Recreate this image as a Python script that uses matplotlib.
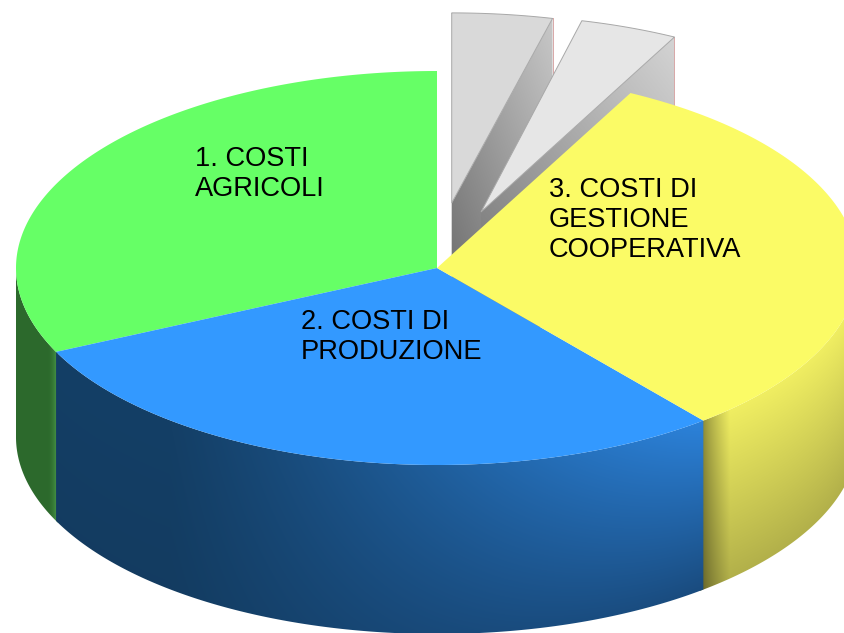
import numpy as np
import matplotlib
matplotlib.use("Agg")
import matplotlib.pyplot as plt
from matplotlib.patches import Polygon

plt.rcParams['font.family'] = ['Liberation Sans', 'DejaVu Sans']

labels = ["1. COSTI\nAGRICOLI", "2. COSTI DI\nPRODUZIONE", "3. COSTI DI\nGESTIONE\nCOOPERATIVA", "", ""]
values = [32.0, 28.9, 31.5, 3.75, 3.85]
top_colors = ["#66ff66", "#3399ff", "#fbfb66", "#e6e6e6", "#d9d9d9"]

W, H = 844, 633
CX, CY, RX, RY, DEPTH = 437.0, 268.0, 421.0, 197.0, 169.0
# pixel offsets of the pulled-out slices (same order as values)
offsets = [(0, 0), (0, 0), (0, 0), (44, -56), (14.7, -65)]
ry_scale = [1, 1, 1, 1.0, 0.965]
label_pos = [(195, 174), (301, 337), (549, 220)]

fig = plt.figure(figsize=(W / 100, H / 100), dpi=100)
ax = fig.add_axes([0, 0, 1, 1])
ax.axis("off")

X, Y = np.meshgrid(np.arange(W) + 0.5, np.arange(H + 40) + 0.5)
EXT = (0, W, H + 40, 0)


def pt(a, cx=CX, cy=CY, ry=RY):
    r = np.radians(a)
    return np.column_stack([cx + RX * np.cos(r), cy - ry * np.sin(r)])


def lerp(c0, c1, t):
    c0, c1 = np.array(c0, float), np.array(c1, float)
    return (c0[None, None, :] + (c1 - c0)[None, None, :] * t[..., None]) / 255.0


def painted(img, verts):
    poly = Polygon(verts, closed=True, fc="none", ec="none", transform=ax.transData)
    ax.add_patch(poly)
    im = ax.imshow(img, extent=EXT, aspect="auto", interpolation="bilinear", zorder=poly.get_zorder())
    im.set_clip_path(poly)
    return im


def wall(a0, a1):
    arc = pt(np.linspace(a0, a1, 200))
    return np.vstack([arc, (arc + [0, DEPTH])[::-1]])


def top(a0, a1, dx=0, dy=0, ry=RY):
    arc = pt(np.linspace(a0, a1, 200), CX + dx, CY + dy, ry)
    return np.vstack([[CX + dx, CY + dy], arc])


edges = 90 + 360 * np.concatenate([[0], np.cumsum(values)]) / np.sum(values)
a = [(edges[i], edges[i + 1]) for i in range(len(values))]

# pulled-out grey slices: far one first
for i, shade0, shade1 in [(4, (115, 115, 115), (200, 200, 200)), (3, (120, 120, 120), (212, 212, 212))]:
    a0, a1 = a[i]
    dx, dy = offsets[i]
    ry = RY * ry_scale[i]
    tip = np.array([CX + dx, CY + dy])
    outer = pt(a0, CX + dx, CY + dy, ry)[0]
    face = np.array([tip, outer, outer + [0, DEPTH], tip + [0, DEPTH]])
    t = np.clip((outer[0] - X) / (outer[0] - tip[0]) * 0.5 + (Y - outer[1]) / 500.0, 0, 1)
    painted(lerp(shade1, shade0, t), face)
    ax.plot([outer[0], outer[0]], [outer[1], outer[1] + DEPTH], color="#d8a8a8", lw=0.7, zorder=1)
    ax.add_patch(Polygon(top(a0, a1, dx, dy, ry), closed=True, fc=top_colors[i], ec="#a8a8a8", lw=0.7))

# outer walls of the main slices
a_green, a_blue, a_yellow = a[0], a[1], a[2]

ty = np.clip((Y - CY - RY * np.sqrt(np.clip(1 - ((X - CX) / RX) ** 2, 0, 1))) / DEPTH, 0, 1)

# green (runs slightly under the blue wall)
t = np.clip((X - 47) / 10.0, 0, 1) ** 2
painted(lerp((44, 105, 44), (72, 150, 72), t), wall(180, a_green[1] + 0.6))

# yellow (runs slightly under the blue wall)
ux = np.clip((X - 703) / 27.0, 0, 1)
sh = 0.58 + 0.42 * ux ** 0.8
yel = lerp((240, 238, 98), (178, 176, 74), ty) * sh[..., None]
painted(np.clip(yel, 0, 1), wall(a_yellow[0] - 0.6, 360))

# blue
tx = np.clip((X - 170) / 530.0, 0, 1) ** 1.1
shade = 1 - 0.42 * ty
base = lerp((20, 63, 102), (44, 130, 218), tx)
blue = base * (shade[..., None] * tx[..., None] + (1 - tx[..., None]) * (1 - 0.05 * ty[..., None]))
painted(np.clip(blue, 0, 1), wall(a_blue[0], a_blue[1]))

# top faces of the main slices
for i in range(3):
    ax.add_patch(Polygon(top(*a[i]), closed=True, fc=top_colors[i], ec="none"))

for (x, y), s in zip(label_pos, labels):
    ax.text(x, y, s, fontsize=19.6, color="black", ha="left", va="center", linespacing=1.19)

ax.set_xlim(0, W)
ax.set_ylim(H, 0)
fig.savefig("out.png", dpi=100, facecolor="white")
